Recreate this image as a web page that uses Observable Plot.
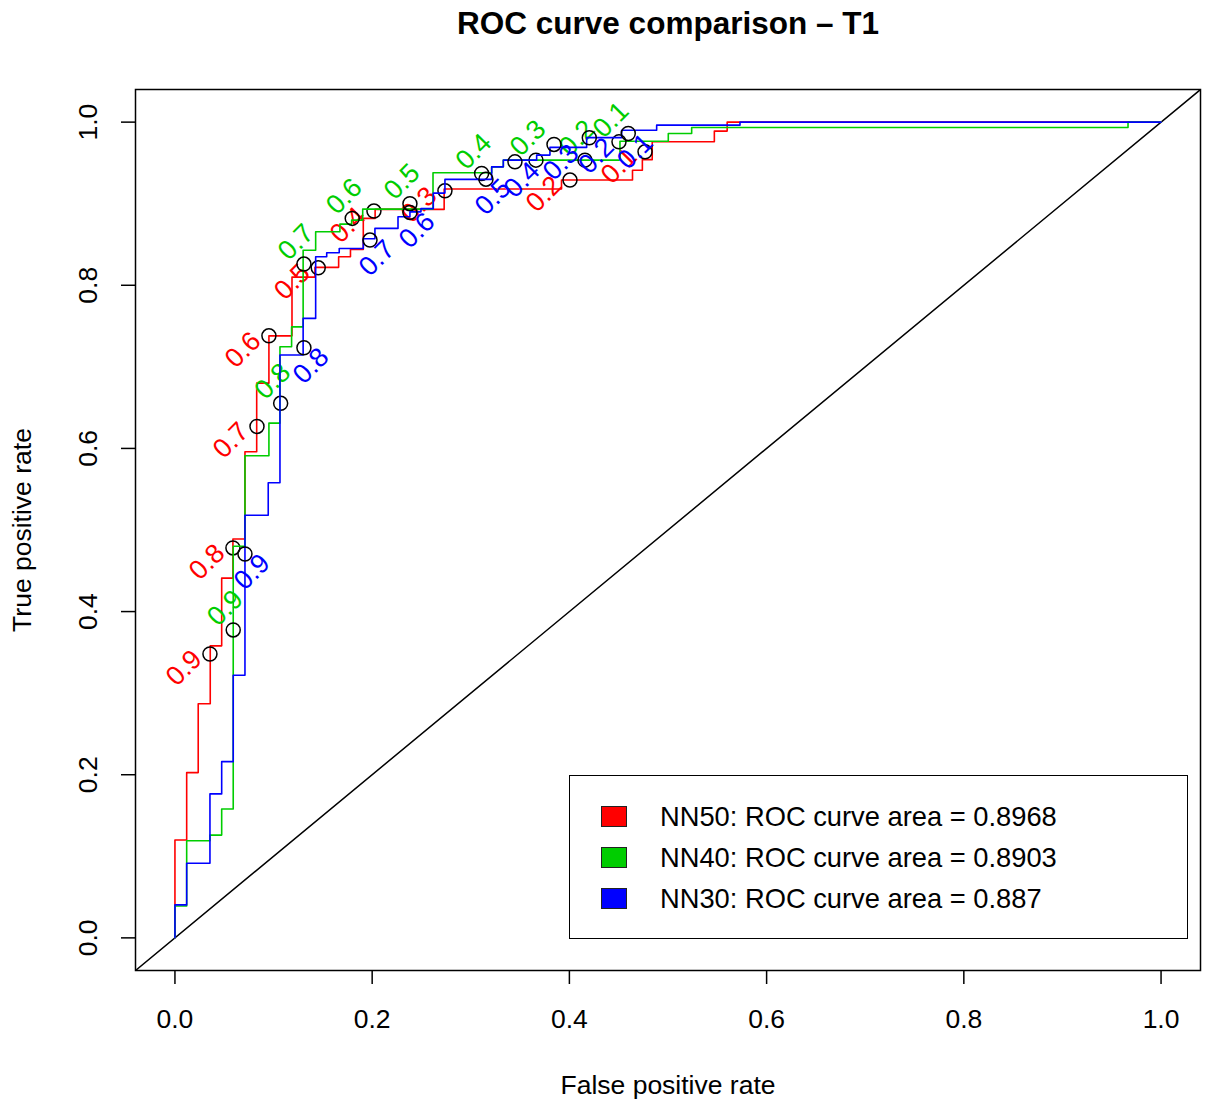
<!DOCTYPE html>
<html>
<head>
<meta charset="utf-8">
<script src="https://cdn.jsdelivr.net/npm/d3@7"></script>
<script src="https://cdn.jsdelivr.net/npm/@observablehq/plot@0.6"></script>
<style>
  html, body { margin: 0; padding: 0; background: white; }
  #wrap { position: relative; width: 1208px; height: 1102px; font-family: "Liberation Sans", Arial, sans-serif; }
  #legend { position: absolute; left: 569px; top: 775px; width: 619px; height: 164px; border: 1.5px solid black; box-sizing: border-box; background: white; }
  .row { position: absolute; left: 0; height: 41px; display: flex; align-items: center; }
  .sw { position: absolute; left: 31px; width: 26px; height: 21px; border: 1px solid #222; box-sizing: border-box; }
  .lab { position: absolute; left: 90px; white-space: nowrap; font-size: 27.3px; line-height: 41px; color: black; }
</style>
</head>
<body>
<div id="wrap"></div>
<script>
// ---------- data ----------
const title = "ROC curve comparison \u2013 T1";
const xLabel = "False positive rate";
const yLabel = "True positive rate";
const axisTicks = [0, 0.2, 0.4, 0.6, 0.8, 1.0];
const seriesNames = ["NN50", "NN40", "NN30"];
const seriesAUC = ["0.8968", "0.8903", "0.887"];
const seriesColors = ["#FF0000", "#00CD00", "#0000FF"];
const cutoffs = [0.9, 0.8, 0.7, 0.6, 0.5, 0.4, 0.3, 0.2, 0.1];

// ROC step vertices (fpr, tpr) — top of each vertical rise
const nn50Fpr = [0, 0, 0.0119, 0.0236, 0.0358, 0.0474, 0.0588, 0.071, 0.0829, 0.0953, 0.1187, 0.142, 0.166, 0.178, 0.191, 0.203, 0.273, 0.392, 0.464, 0.474, 0.484, 0.547, 0.560, 1];
const nn50Tpr = [0, 0.120, 0.2026, 0.287, 0.358, 0.441, 0.489, 0.596, 0.680, 0.738, 0.810, 0.822, 0.835, 0.844, 0.882, 0.893, 0.918, 0.929, 0.941, 0.954, 0.976, 0.989, 1.0, 1];

const nn40Fpr = [0, 0, 0.0119, 0.0355, 0.0474, 0.0591, 0.071, 0.0953, 0.1065, 0.1183, 0.130, 0.1427, 0.1673, 0.1792, 0.1904, 0.2617, 0.3212, 0.333, 0.4513, 0.5003, 0.524, 0.9665, 1];
const nn40Tpr = [0, 0.039, 0.119, 0.126, 0.158, 0.480, 0.591, 0.631, 0.7247, 0.749, 0.843, 0.8656, 0.875, 0.8799, 0.8934, 0.9379, 0.9452, 0.9534, 0.9765, 0.9861, 0.9935, 1.0, 1];

const nn30Fpr = [0, 0, 0.0119, 0.0355, 0.0474, 0.0591, 0.071, 0.0946, 0.1065, 0.130, 0.1427, 0.1539, 0.1666, 0.191, 0.2028, 0.2262, 0.2383, 0.2495, 0.262, 0.2738, 0.3212, 0.333, 0.3668, 0.3803, 0.4175, 0.453, 0.4885, 0.573, 1];
const nn30Tpr = [0, 0.0404, 0.0915, 0.1765, 0.216, 0.3219, 0.518, 0.558, 0.7145, 0.7594, 0.835, 0.8398, 0.845, 0.857, 0.8697, 0.884, 0.890, 0.894, 0.913, 0.9298, 0.9452, 0.9534, 0.9596, 0.969, 0.981, 0.990, 0.9963, 1.0, 1];

// cutoff points (0.9 ... 0.1)
const nn50CutFpr = [0.0355, 0.0588, 0.0832, 0.0953, 0.1453, 0.2018, 0.2738, 0.4006, 0.4767];
const nn50CutTpr = [0.348, 0.478, 0.627, 0.738, 0.8214, 0.891, 0.9158, 0.929, 0.9636];
const nn40CutFpr = [0.0591, 0.1072, 0.1308, 0.1798, 0.2383, 0.311, 0.3661, 0.4158, 0.4503];
const nn40CutTpr = [0.3775, 0.6553, 0.826, 0.882, 0.900, 0.937, 0.9534, 0.9534, 0.9758];
const nn30CutFpr = [0.071, 0.1308, 0.1978, 0.2383, 0.3154, 0.3448, 0.3844, 0.4202, 0.4597];
const nn30CutTpr = [0.4706, 0.7234, 0.8554, 0.8893, 0.9301, 0.9513, 0.9727, 0.9808, 0.9861];

// ---------- build ----------
const domain = [-0.04, 1.04];
const fmt = d => d.toFixed(1);
const font = "Liberation Sans, Arial, sans-serif";

function pts(xs, ys) { return xs.map((x, i) => ({x, y: ys[i]})); }
function cuts(xs, ys) { return xs.map((x, i) => ({x, y: ys[i], c: cutoffs[i]})); }

const series = [
  {curve: pts(nn50Fpr, nn50Tpr), cut: cuts(nn50CutFpr, nn50CutTpr), color: seriesColors[0], dx: -26, dy: 14},
  {curve: pts(nn40Fpr, nn40Tpr), cut: cuts(nn40CutFpr, nn40CutTpr), color: seriesColors[1], dx: -8, dy: -22},
  {curve: pts(nn30Fpr, nn30Tpr), cut: cuts(nn30CutFpr, nn30CutTpr), color: seriesColors[2], dx: 7, dy: 18}
];

const seriesMarks = series.flatMap(s => [
  Plot.line(s.curve, {x: "x", y: "y", curve: "step-after", stroke: s.color, strokeWidth: 1.6}),
  Plot.dot(s.cut, {x: "x", y: "y", r: 7, stroke: "black", strokeWidth: 1.5, fill: "none"}),
  Plot.text(s.cut, {x: "x", y: "y", text: d => fmt(d.c), rotate: -45, dx: s.dx, dy: s.dy,
    fill: s.color, fontSize: 27, textAnchor: "middle", lineAnchor: "middle"})
]);

const chart = Plot.plot({
  width: 1208,
  height: 1102,
  marginLeft: 135,
  marginRight: 8,
  marginTop: 89,
  marginBottom: 132,
  style: {fontFamily: font, background: "white", color: "black"},
  x: {domain},
  y: {domain},
  marks: [
    Plot.line(domain, {x: d => d, y: d => d, stroke: "black", strokeWidth: 1.5, clip: true}),
    ...seriesMarks,
    Plot.frame({stroke: "black", strokeWidth: 1.5}),
    Plot.axisX({ticks: axisTicks, tickSize: 14, tickPadding: 25, tickFormat: fmt, fontSize: 26.5, label: null, strokeWidth: 1.5}),
    Plot.axisY({ticks: axisTicks, tickSize: 14, tickFormat: () => "", label: null, strokeWidth: 1.5}),
    Plot.text(axisTicks, {y: d => d, text: fmt, frameAnchor: "left", dx: -47, rotate: -90,
      fontSize: 26.5, textAnchor: "middle", lineAnchor: "middle"}),
    Plot.text([title], {frameAnchor: "top", dy: -66, fontSize: 31.5, fontWeight: "bold", lineAnchor: "middle", textAnchor: "middle"}),
    Plot.text([xLabel], {frameAnchor: "bottom", dy: 115, fontSize: 26.5, lineAnchor: "middle", textAnchor: "middle"}),
    Plot.text([yLabel], {frameAnchor: "left", dx: -113, rotate: -90, fontSize: 26.5, lineAnchor: "middle", textAnchor: "middle"})
  ]
});

const wrap = document.getElementById("wrap");
wrap.appendChild(chart);

const legend = document.createElement("div");
legend.id = "legend";
seriesNames.forEach((n, i) => {
  const row = document.createElement("div");
  row.className = "row";
  row.style.top = (20 + i * 41) + "px";
  const sw = document.createElement("div");
  sw.className = "sw";
  sw.style.background = seriesColors[i];
  sw.style.top = "10px";
  const lab = document.createElement("div");
  lab.className = "lab";
  lab.textContent = `${n}: ROC curve area = ${seriesAUC[i]}`;
  row.appendChild(sw);
  row.appendChild(lab);
  legend.appendChild(row);
});
wrap.appendChild(legend);
</script>
</body>
</html>
